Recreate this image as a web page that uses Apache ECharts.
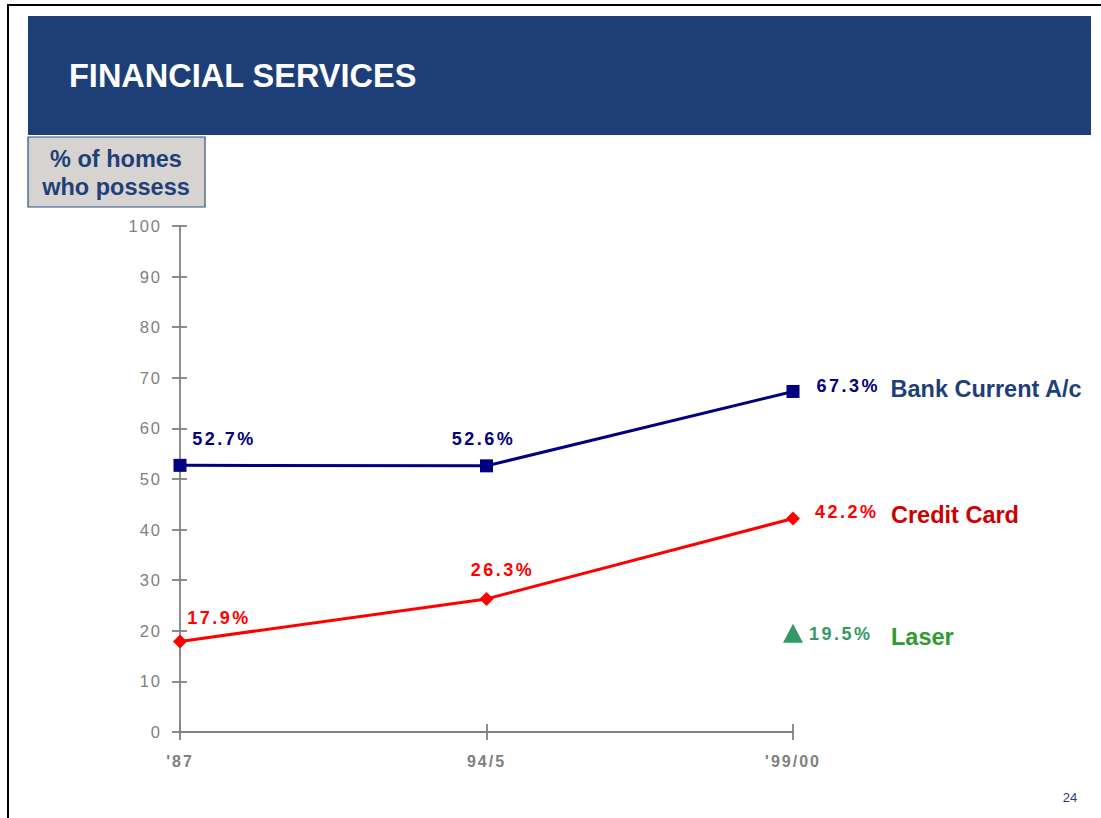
<!DOCTYPE html>
<html>
<head>
<meta charset="utf-8">
<title>Financial Services</title>
<script src="https://cdn.jsdelivr.net/npm/echarts@6/dist/echarts.min.js"></script>
<style>
  html, body { margin: 0; padding: 0; background: #ffffff; }
  #chart { width: 1101px; height: 818px; }
  /* spaced-out figures for value labels and axis labels */
  #chart text[fill="#000080"], #chart text[fill="#ff0000"], #chart text[fill="#339966"] { letter-spacing: 2.5px; }
  #chart text[fill="#808080"] { letter-spacing: 2px; }
</style>
</head>
<body>
<div id="chart"></div>
<script>
// Share of homes holding each financial product, by survey period
const categories = ["'87", "94/5", "'99/00"];
const bankValues = [52.7, 52.6, 67.3];
const creditValues = [17.9, 26.3, 42.2];
const laserValues = [null, null, 19.5];
const seriesNames = ['Bank Current A/c', 'Credit Card', 'Laser'];
const yMin = 0, yMax = 100, yStep = 10;

const FONT = 'Liberation Sans, Arial, Helvetica, sans-serif';
const AXIS_GREY = '#808080';
const pct = v => v.toFixed(1) + '%';

// label placement for each point (offsets relative to the marker centre)
const bankLabelOffsets = [[44, -26], [-3, -27], null];
const creditLabelOffsets = [[39, -23], [16, -29], null];

function valueLabel(color) {
  return { color: color, fontFamily: FONT, fontWeight: 'bold', fontSize: 18 };
}

function buildPoints(values, offsets, color, nameColor, name, endDistance, valueBoxWidth, endOffset) {
  return values.map((v, i) => {
    if (v == null) return null;
    const off = offsets ? offsets[i] : null;
    if (off) {
      return {
        value: v,
        label: Object.assign({ show: true, position: 'inside', offset: off, formatter: pct(v) }, valueLabel(color))
      };
    }
    return {
      value: v,
      label: {
        show: true,
        position: 'right',
        distance: endDistance,
        offset: endOffset,
        formatter: '{v|' + pct(v) + '}{n|' + name + '}',
        rich: {
          v: Object.assign({ width: valueBoxWidth, align: 'left', verticalAlign: 'middle' }, valueLabel(color)),
          n: { color: nameColor, fontFamily: FONT, fontWeight: 'bold', fontSize: 23.5, verticalAlign: 'middle', padding: [6, 0, 0, 0] }
        }
      }
    };
  });
}

const chart = echarts.init(document.getElementById('chart'), null, { renderer: 'svg' });

const axisLineStyle = { color: AXIS_GREY, width: 1.8 };

chart.setOption({
  animation: false,
  backgroundColor: '#ffffff',
  grid: { left: 180, right: 308, top: 226, bottom: 86 },
  graphic: [
    // page frame
    { type: 'rect', z: -10, shape: { x: 8, y: 5, width: 1200, height: 900 },
      style: { fill: 'none', stroke: '#000000', lineWidth: 2 } },
    // title banner
    { type: 'rect', shape: { x: 28, y: 16, width: 1063, height: 119 }, style: { fill: '#1e3e77' } },
    { type: 'text', left: 69, top: 59,
      style: { text: 'FINANCIAL SERVICES', fill: '#ffffff', font: 'bold 32.5px ' + FONT } },
    // y-axis caption box
    { type: 'rect', shape: { x: 28, y: 137, width: 177, height: 70 },
      style: { fill: '#d6d3d0', stroke: '#2f4d86', lineWidth: 1.2 } },
    { type: 'text', x: 116, y: 173,
      style: { text: '% of homes\nwho possess', fill: '#1f3f78', font: 'bold 23.5px ' + FONT,
               align: 'center', verticalAlign: 'middle', lineHeight: 28 } },
    // page number
    { type: 'text', x: 1070, y: 797,
      style: { text: '24', fill: '#1f3f78', font: '13px ' + FONT, align: 'center', verticalAlign: 'middle' } }
  ],
  xAxis: [
    {
      type: 'category', data: categories, boundaryGap: false, position: 'bottom',
      axisLine: { show: true, lineStyle: axisLineStyle },
      axisTick: { show: true, length: 8, lineStyle: axisLineStyle },
      axisLabel: { color: AXIS_GREY, fontFamily: FONT, fontWeight: 'bold', fontSize: 16, margin: 21 },
      splitLine: { show: false }
    },
    {
      type: 'category', data: categories, boundaryGap: false, position: 'bottom',
      axisLine: { show: false },
      axisTick: { show: true, inside: true, length: 8, lineStyle: axisLineStyle },
      axisLabel: { show: false },
      splitLine: { show: false }
    }
  ],
  yAxis: [
    {
      type: 'value', min: yMin, max: yMax, interval: yStep, position: 'left',
      axisLine: { show: true, lineStyle: axisLineStyle },
      axisTick: { show: true, length: 8, lineStyle: axisLineStyle },
      axisLabel: { color: AXIS_GREY, fontFamily: FONT, fontSize: 16.5, margin: 18 },
      splitLine: { show: false }
    },
    {
      type: 'value', min: yMin, max: yMax, interval: yStep, position: 'left',
      axisLine: { show: false },
      axisTick: { show: true, inside: true, length: 7, lineStyle: axisLineStyle },
      axisLabel: { show: false },
      splitLine: { show: false }
    }
  ],
  series: [
    {
      name: seriesNames[0], type: 'line', xAxisIndex: 0, yAxisIndex: 0,
      symbol: 'rect', symbolSize: 13,
      lineStyle: { color: '#000080', width: 3 },
      itemStyle: { color: '#000080' },
      data: buildPoints(bankValues, bankLabelOffsets, '#000080', '#1f3f78', seriesNames[0], 17, 74, [0, -5])
    },
    {
      name: seriesNames[1], type: 'line', xAxisIndex: 0, yAxisIndex: 0,
      symbol: 'diamond', symbolSize: 14,
      lineStyle: { color: '#ff0000', width: 3 },
      itemStyle: { color: '#ff0000' },
      data: buildPoints(creditValues, creditLabelOffsets, '#ff0000', '#cc0000', seriesNames[1], 15, 76, [0, -6])
    },
    {
      name: seriesNames[2], type: 'line', xAxisIndex: 0, yAxisIndex: 0,
      symbol: 'triangle', symbolSize: [20, 19],
      showSymbol: true,
      lineStyle: { width: 0 },
      itemStyle: { color: '#339966' },
      data: buildPoints(laserValues, null, '#339966', '#339933', seriesNames[2], 6, 82, [0, 1])
    }
  ]
});
</script>
</body>
</html>
